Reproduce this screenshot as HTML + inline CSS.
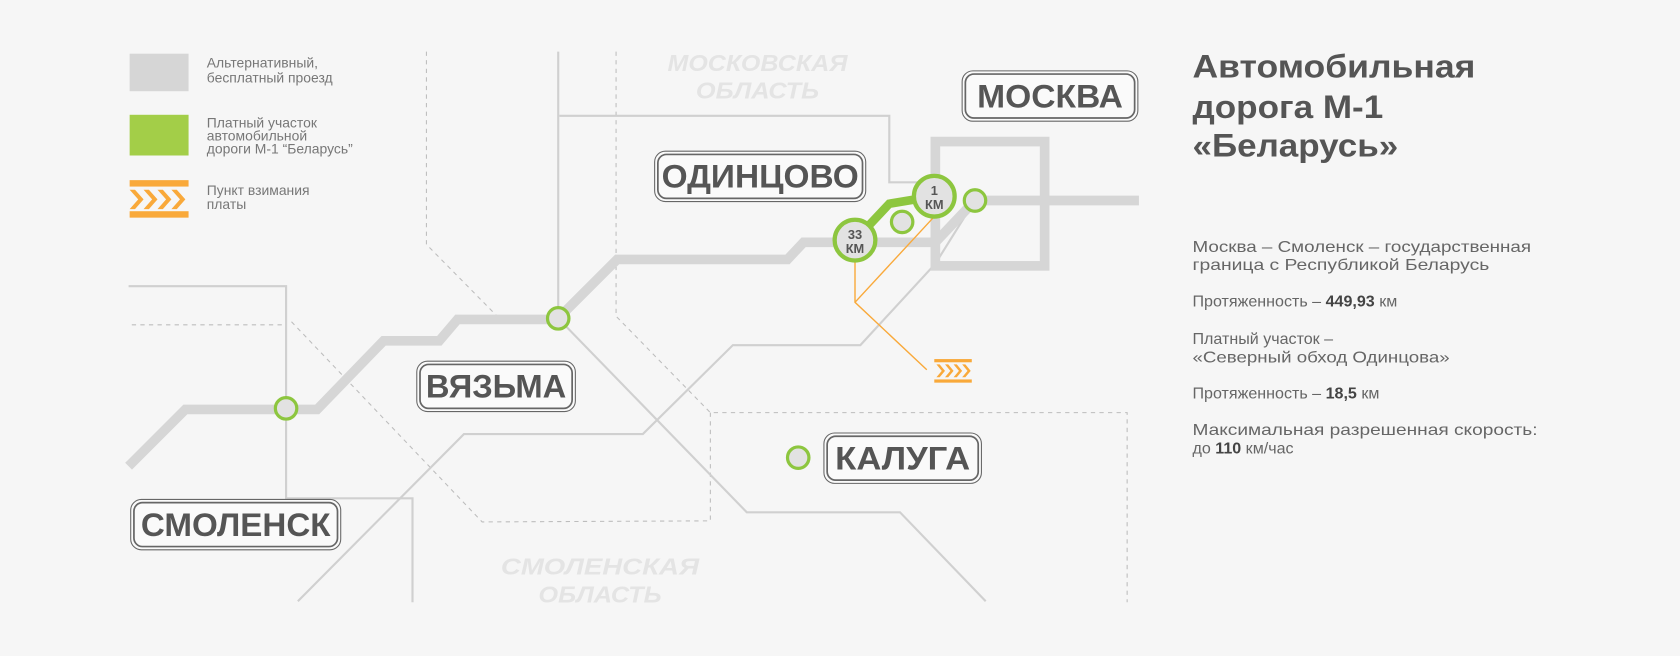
<!DOCTYPE html>
<html><head><meta charset="utf-8"><style>
html,body{margin:0;padding:0;background:#f6f6f6;}
svg{display:block;}
text{font-family:"Liberation Sans",sans-serif;}
</style></head><body>
<svg width="1680" height="656" viewBox="0 0 1568 612" xmlns="http://www.w3.org/2000/svg">
<rect width="1568" height="612" fill="#f6f6f6"/>
<!-- region labels -->
<g font-weight="bold" font-style="italic" fill="#e4e4e4" font-size="22" text-anchor="middle">
<text x="707" y="66" textLength="168" lengthAdjust="spacingAndGlyphs">МОСКОВСКАЯ</text>
<text x="707" y="92" textLength="115" lengthAdjust="spacingAndGlyphs">ОБЛАСТЬ</text>
<text x="560" y="536" textLength="185" lengthAdjust="spacingAndGlyphs">СМОЛЕНСКАЯ</text>
<text x="560" y="562" textLength="115" lengthAdjust="spacingAndGlyphs">ОБЛАСТЬ</text>
</g>
<!-- dashed lines -->
<g fill="none" stroke="#bdbdbd" stroke-width="1" stroke-dasharray="4 4">
<polyline points="398,48 398,228 467,298"/>
<polyline points="575,48 575,295 663,385 1052,385 1052,562"/>
<polyline points="663,385 663,486 450,487 270,298"/>
<polyline points="123,303 267,303"/>
</g>
<!-- thin gray lines -->
<g fill="none" stroke="#d0d0d0" stroke-width="2">
<polyline points="521,48 521,297 697,478 840,478 920,561"/>
<polyline points="522,108 830,108 830,170 870,170"/>
<polyline points="120,267 267,267 267,465 385,465 385,562"/>
<polyline points="278,561 433,405 600,405 684,322 803,322 873,246 908,190"/>
</g>
<!-- thick gray -->
<g fill="none" stroke="#d6d6d6" stroke-width="9">
<polyline points="120,435 173,382 296,382 358,318 410,318 427,298 520,298 576,242 735,242 750,226 873,226 910,187 1063,187"/>
<rect x="873" y="132" width="102" height="116"/>
</g>
<!-- green toll road -->
<polyline points="798,224 830,190 872,183" fill="none" stroke="#8dc63f" stroke-width="8"/>
<!-- orange -->
<g fill="none" stroke="#f9a93a" stroke-width="1.3">
<polyline points="798,242 798,282 865,345"/>
<line x1="798" y1="282" x2="872" y2="202"/>
</g>
<!-- circles -->
<g fill="#e2e2e2" stroke="#8dc63f" stroke-width="3">
<circle cx="842" cy="207" r="10"/>
<circle cx="910" cy="187" r="10"/>
<circle cx="521" cy="297" r="10"/>
<circle cx="267" cy="381" r="10"/>
<circle cx="745" cy="427" r="10"/>
</g>
<g fill="#e2e2e2" stroke="#8dc63f" stroke-width="4">
<circle cx="798" cy="224" r="19"/>
<circle cx="872" cy="183" r="19"/>
</g>
<g font-weight="bold" fill="#555" font-size="12" text-anchor="middle">
<text x="798" y="223">33</text><text x="798" y="236">КМ</text>
<text x="872" y="182">1</text><text x="872" y="195">КМ</text>
</g>
<!-- toll icons -->
<g fill="#f9a93a">
<rect x="872" y="335" width="35" height="3"/><rect x="872" y="354" width="35" height="3"/>
<path d="M874,340 l5,6 l-5,6 h3 l5,-6 l-5,-6z M882,340 l5,6 l-5,6 h3 l5,-6 l-5,-6z M890,340 l5,6 l-5,6 h3 l5,-6 l-5,-6z M898,340 l5,6 l-5,6 h3 l5,-6 l-5,-6z"/>
<rect x="121" y="168" width="55" height="6"/><rect x="121" y="197" width="55" height="6"/>
<path d="M121,177 l8,9 l-8,9 h5 l8,-9 l-8,-9z M134,177 l8,9 l-8,9 h5 l8,-9 l-8,-9z M147,177 l8,9 l-8,9 h5 l8,-9 l-8,-9z M160,177 l8,9 l-8,9 h5 l8,-9 l-8,-9z"/>
</g>
<!-- legend -->
<rect x="121" y="50" width="55" height="35" fill="#d6d6d6"/>
<rect x="121" y="107" width="55" height="38" fill="#a3ce48"/>
<g fill="#777" font-size="13">
<text x="193" y="63">Альтернативный,</text><text x="193" y="77">бесплатный проезд</text>
<text x="193" y="119">Платный участок</text><text x="193" y="131">автомобильной</text><text x="193" y="143">дороги М-1 “Беларусь”</text>
<text x="193" y="182">Пункт взимания</text><text x="193" y="195">платы</text>
</g>
<!-- city boxes -->
<g fill="#fafafa" stroke="#666">
<rect x="898" y="66" width="164" height="47" rx="10" stroke-width="1"/><rect x="901" y="69" width="158" height="41" rx="8" stroke-width="1.6"/>
<rect x="611" y="141" width="197" height="47" rx="10" stroke-width="1"/><rect x="614" y="144" width="191" height="41" rx="8" stroke-width="1.6"/>
<rect x="389" y="337" width="148" height="47" rx="10" stroke-width="1"/><rect x="392" y="340" width="142" height="41" rx="8" stroke-width="1.6"/>
<rect x="769" y="404" width="147" height="47" rx="10" stroke-width="1"/><rect x="772" y="407" width="141" height="41" rx="8" stroke-width="1.6"/>
<rect x="122" y="466" width="196" height="47" rx="10" stroke-width="1"/><rect x="125" y="469" width="190" height="41" rx="8" stroke-width="1.6"/>
</g>
<g font-weight="bold" fill="#555" font-size="30" text-anchor="middle">
<text x="980" y="100" textLength="136" lengthAdjust="spacingAndGlyphs">МОСКВА</text>
<text x="709.5" y="175" textLength="184" lengthAdjust="spacingAndGlyphs">ОДИНЦОВО</text>
<text x="463" y="371" textLength="131" lengthAdjust="spacingAndGlyphs">ВЯЗЬМА</text>
<text x="842.5" y="438" textLength="126" lengthAdjust="spacingAndGlyphs">КАЛУГА</text>
<text x="220" y="500" textLength="177" lengthAdjust="spacingAndGlyphs">СМОЛЕНСК</text>
</g>
<!-- right text -->
<g font-weight="bold" fill="#555" font-size="30">
<text x="1113" y="72" textLength="264" lengthAdjust="spacingAndGlyphs">Автомобильная</text>
<text x="1113" y="110" textLength="178" lengthAdjust="spacingAndGlyphs">дорога М-1</text>
<text x="1113" y="146" textLength="192" lengthAdjust="spacingAndGlyphs">«Беларусь»</text>
</g>
<g fill="#666" font-size="15">
<text x="1113" y="235" textLength="316" lengthAdjust="spacingAndGlyphs">Москва – Смоленск – государственная</text>
<text x="1113" y="252" textLength="277" lengthAdjust="spacingAndGlyphs">граница с Республикой Беларусь</text>
<text x="1113" y="286">Протяженность – <tspan font-weight="bold" fill="#444">449,93</tspan> км</text>
<text x="1113" y="321">Платный участок –</text>
<text x="1113" y="338" textLength="240" lengthAdjust="spacingAndGlyphs">«Северный обход Одинцова»</text>
<text x="1113" y="372">Протяженность – <tspan font-weight="bold" fill="#444">18,5</tspan> км</text>
<text x="1113" y="406" textLength="322" lengthAdjust="spacingAndGlyphs">Максимальная разрешенная скорость:</text>
<text x="1113" y="423">до <tspan font-weight="bold" fill="#444">110</tspan> км/час</text>
</g>
</svg>
</body></html>
